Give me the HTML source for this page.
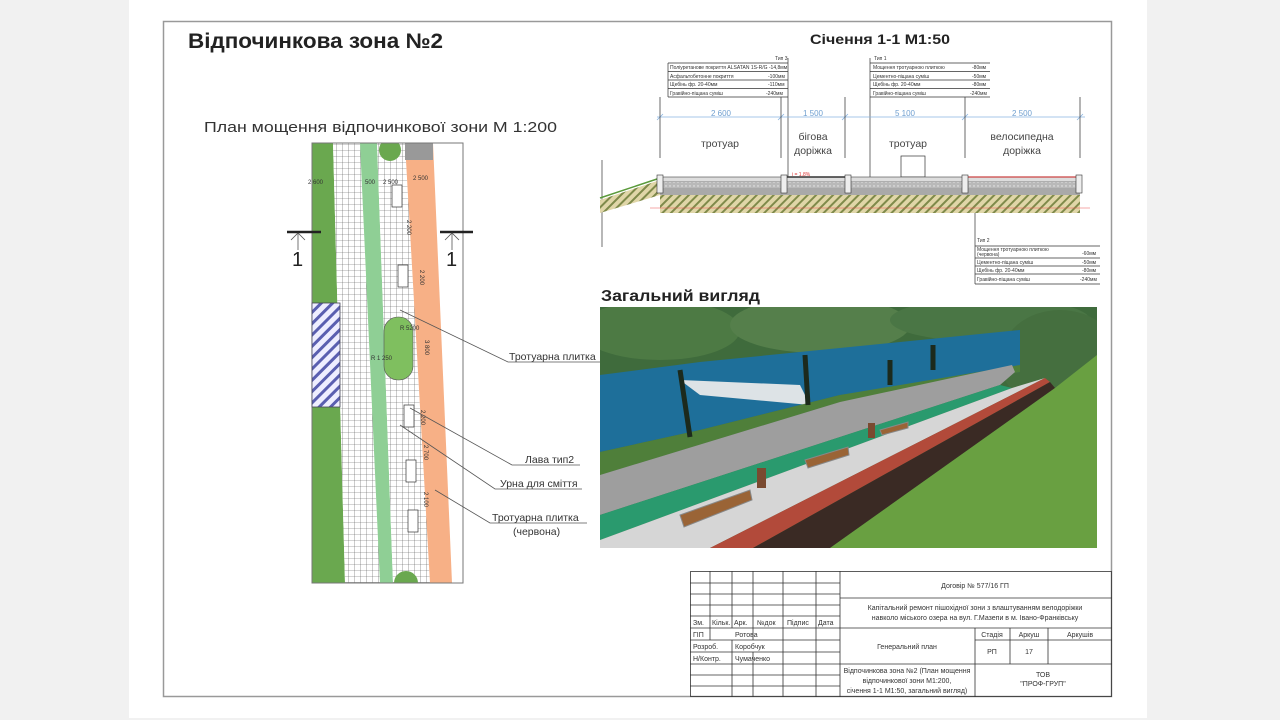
<!DOCTYPE html>
<html><head><meta charset="utf-8"><style>
html,body{margin:0;padding:0;background:#f1f1f1;width:1280px;height:720px;overflow:hidden}
svg{display:block}
text{font-family:"Liberation Sans",sans-serif}
</style></head><body>
<svg width="1280" height="720" viewBox="0 0 1280 720" xmlns="http://www.w3.org/2000/svg">
<defs>
<pattern id="grid" width="6" height="6" patternUnits="userSpaceOnUse">
<rect width="6" height="6" fill="#fff"/><path d="M0 0H6M0 0V6" stroke="#555" stroke-width="0.6"/></pattern>
<pattern id="hatchB" width="8" height="8" patternUnits="userSpaceOnUse" patternTransform="rotate(45)">
<rect width="8" height="8" fill="#eef"/><rect width="3" height="8" fill="#5a5fb0"/></pattern>
<pattern id="soil" width="6" height="6" patternUnits="userSpaceOnUse" patternTransform="rotate(45)">
<rect width="6" height="6" fill="#e0d6a8"/><rect width="2" height="6" fill="#7f8a4a"/></pattern>
<pattern id="grav" width="4" height="4" patternUnits="userSpaceOnUse">
<rect width="4" height="4" fill="#b9b9b9"/><circle cx="2" cy="2" r="0.7" fill="#eee"/></pattern>
<clipPath id="cp"><rect x="600" y="307" width="497" height="241"/></clipPath>
<clipPath id="cplan"><rect x="312" y="143" width="151" height="440"/></clipPath>
</defs>
<rect x="129" y="0" width="1018" height="718" fill="#fff"/>
<rect x="163.5" y="21.5" width="948" height="675" fill="none" stroke="#999" stroke-width="1.5"/>

<text x="188" y="48" font-size="21" font-weight="bold" fill="#222" textLength="255" lengthAdjust="spacingAndGlyphs">Відпочинкова зона №2</text>
<text x="204" y="132" font-size="15" fill="#333" textLength="353" lengthAdjust="spacingAndGlyphs">План мощення відпочинкової зони  М 1:200</text>
<text x="810" y="44" font-size="14" font-weight="bold" fill="#222" textLength="140" lengthAdjust="spacingAndGlyphs">Січення 1-1 М1:50</text>
<text x="601" y="301" font-size="16" font-weight="bold" fill="#222" textLength="159" lengthAdjust="spacingAndGlyphs">Загальний вигляд</text>

<!-- PLAN -->
<g clip-path="url(#cplan)">
<rect x="312" y="143" width="151" height="440" fill="#fff"/>
<polygon points="312,143 333,143 345,583 312,583" fill="#6aa84f"/>
<polygon points="333,143 360,143 380,583 345,583" fill="url(#grid)"/>
<polygon points="360,143 377,143 393,583 380,583" fill="#8fcf95"/>
<polygon points="377,143 405,143 430,583 393,583" fill="url(#grid)"/>
<polygon points="405,143 433,143 452,583 430,583" fill="#f7b086"/>
<rect x="405" y="143" width="28" height="17" fill="#999"/>
<circle cx="390" cy="150" r="11" fill="#6aa84f"/>
<circle cx="406" cy="583" r="12" fill="#6aa84f"/>
</g>
<rect x="312" y="143" width="151" height="440" fill="none" stroke="#777"/>
<rect x="384" y="317" width="29" height="63" rx="14" fill="#7fbf5f" stroke="#555" stroke-width="0.6"/>
<rect x="312" y="303" width="28" height="104" fill="url(#hatchB)" stroke="#445" stroke-width="0.8"/>
<g fill="#fff" stroke="#333" stroke-width="0.7">
<rect x="392" y="185" width="10" height="22"/><rect x="398" y="265" width="10" height="22"/>
<rect x="404" y="405" width="10" height="22"/><rect x="406" y="460" width="10" height="22"/>
<rect x="408" y="510" width="10" height="22"/>
</g>
<g font-size="6" fill="#333">
<text x="308" y="184">2 600</text><text x="365" y="184">500</text><text x="383" y="184">2 500</text><text x="413" y="180">2 500</text>
<text x="407" y="220" transform="rotate(90 407 220)">2 200</text><text x="420" y="270" transform="rotate(90 420 270)">2 200</text>
<text x="400" y="330">R 5200</text><text x="371" y="360">R 1 250</text>
<text x="425" y="340" transform="rotate(90 425 340)">3 800</text>
<text x="421" y="410" transform="rotate(90 421 410)">2 200</text><text x="424" y="445" transform="rotate(90 424 445)">2 700</text>
<text x="424" y="492" transform="rotate(90 424 492)">2 100</text>
</g>
<g stroke="#222" stroke-width="2.5"><line x1="287" y1="232" x2="321" y2="232"/><line x1="440" y1="232" x2="473" y2="232"/></g>
<g stroke="#555" stroke-width="0.8" fill="none"><path d="M298 233V250M291 240L298 233L305 240"/><path d="M452 233V250M445 240L452 233L459 240"/></g>
<text x="292" y="266" font-size="20" fill="#222">1</text><text x="446" y="266" font-size="20" fill="#222">1</text>

<g stroke="#555" stroke-width="0.8" fill="none">
<path d="M400 310L508 362H600"/><path d="M410 408L512 465H580"/>
<path d="M400 425L495 489H582"/><path d="M435 490L490 523H587"/>
</g>
<g font-size="10.5" fill="#333">
<text x="509" y="360">Тротуарна плитка</text>
<text x="525" y="463">Лава тип2</text>
<text x="500" y="487">Урна для сміття</text>
<text x="492" y="521">Тротуарна плитка</text>
<text x="513" y="535">(червона)</text>
</g>

<!-- SECTION -->
<g stroke="#333" stroke-width="0.7" fill="none">
<path d="M668 63H788M668 71.5H788M668 80H788M668 88.5H788M668 97H788M668 63V97M788 58V186"/>
<path d="M870 63H990M870 71.5H990M870 80H990M870 88.5H990M870 97H990M870 58V180"/>
<path d="M975 246H1100M975 258H1100M975 266H1100M975 274H1100M975 284H1100M975 246V284M975 195V284"/>
<path d="M602 160V247"/>
</g>
<g font-size="5" fill="#333">
<text x="775" y="60">Тип 3</text><text x="874" y="60">Тип 1</text><text x="977" y="242">Тип 2</text>
<text x="670" y="69">Поліуретанове покриття ALSATAN 1S-R/G -14,8мм</text>
<text x="670" y="78">Асфальтобетонне покриття</text><text x="768" y="78">-100мм</text>
<text x="670" y="86">Щебінь фр. 20-40мм</text><text x="768" y="86">-110мм</text>
<text x="670" y="95">Гравійно-піщана суміш</text><text x="766" y="95">-240мм</text>
<text x="873" y="69">Мощення тротуарною плиткою</text><text x="972" y="69">-80мм</text>
<text x="873" y="78">Цементно-піщана суміш</text><text x="972" y="78">-50мм</text>
<text x="873" y="86">Щебінь фр. 20-40мм</text><text x="972" y="86">-80мм</text>
<text x="873" y="95">Гравійно-піщана суміш</text><text x="970" y="95">-240мм</text>
<text x="977" y="251">Мощення тротуарною плиткою</text><text x="977" y="256">(червона)</text><text x="1082" y="255">-60мм</text>
<text x="977" y="264">Цементно-піщана суміш</text><text x="1082" y="264">-50мм</text>
<text x="977" y="272">Щебінь фр. 20-40мм</text><text x="1082" y="272">-80мм</text>
<text x="977" y="281">Гравійно-піщана суміш</text><text x="1080" y="281">-240мм</text>
</g>
<g stroke="#8ab4e0" stroke-width="0.8"><path d="M657 117H1085"/>
<path d="M657 120L663 114M778 120L784 114M842 120L848 114M962 120L968 114M1077 120L1083 114"/></g>
<g stroke="#444" stroke-width="0.8"><path d="M660 97V158M781 97V158M845 97V158M965 97V158M1080 97V158"/></g>
<g font-size="8" fill="#6f9fd0" text-anchor="middle"><text x="721" y="116">2 600</text><text x="813" y="116">1 500</text><text x="905" y="116">5 100</text><text x="1022" y="116">2 500</text></g>
<g font-size="10.5" fill="#444" text-anchor="middle"><text x="720" y="147">тротуар</text><text x="813" y="140">бігова</text><text x="813" y="154">доріжка</text><text x="908" y="147">тротуар</text><text x="1022" y="140">велосипедна</text><text x="1022" y="154">доріжка</text></g>
<rect x="901" y="156" width="24" height="21" fill="#fff" stroke="#333" stroke-width="0.7"/>
<polygon points="600,200 660,180 660,195 600,213" fill="url(#soil)"/>
<path d="M600 198L660 178" stroke="#5a9a3a" stroke-width="1.5"/>
<rect x="660" y="195" width="420" height="18" fill="url(#soil)"/>
<rect x="660" y="177" width="420" height="5" fill="#ddd" stroke="#444" stroke-width="0.6"/>
<rect x="660" y="182" width="420" height="6" fill="url(#grav)"/>
<rect x="660" y="188" width="420" height="7" fill="#a9a9a9"/>
<path d="M787 177H845" stroke="#333" stroke-width="1.5"/>
<path d="M965 177H1080" stroke="#c44" stroke-width="1.2"/>
<g fill="#eee" stroke="#333" stroke-width="0.6"><rect x="657" y="175" width="6" height="18"/><rect x="781" y="175" width="6" height="18"/><rect x="845" y="175" width="6" height="18"/><rect x="962" y="175" width="6" height="18"/><rect x="1076" y="175" width="6" height="18"/></g>
<path d="M650 208H1090" stroke="#e55" stroke-width="0.6"/>
<text x="792" y="176" font-size="5" fill="#d33">і = 1,8%</text>

<!-- PHOTO -->
<g clip-path="url(#cp)">
<rect x="600" y="307" width="497" height="241" fill="#3f6b3c"/>
<ellipse cx="660" cy="330" rx="80" ry="30" fill="#4d7a44"/>
<ellipse cx="820" cy="325" rx="90" ry="28" fill="#557f4b"/>
<ellipse cx="990" cy="320" rx="100" ry="22" fill="#4a7645"/>
<ellipse cx="1060" cy="360" rx="60" ry="50" fill="#456f3f"/>
<polygon points="600,375 700,362 1020,330 1020,372 840,395 700,430 600,452" fill="#1e6f9a"/>
<polygon points="680,380 800,385 810,405 700,395" fill="#dde3e6"/>
<polygon points="600,452 700,430 840,395 1020,365 1020,372 840,402 600,475" fill="#4f7f3a"/>
<polygon points="600,475 840,402 1012,365 1015,372 1000,385 600,515" fill="#9e9e9e"/>
<polygon points="600,515 1000,385 1012,388 600,540" fill="#2a9a6e"/>
<polygon points="600,540 1012,388 1045,378 710,548 600,548" fill="#d6d6d6"/>
<polygon points="710,548 1045,378 1050,382 753,548" fill="#b24a3a"/>
<polygon points="753,548 1050,382 1055,388 830,548" fill="#3a2a24"/>
<polygon points="830,548 1055,388 1097,355 1097,548" fill="#69a041"/>
<g stroke="#1c2a1c" stroke-width="5"><path d="M680 370L690 437"/><path d="M805 355L808 405"/><path d="M890 360L890 385"/><path d="M933 345L933 370"/></g>
<g fill="#9a6436" stroke="#888" stroke-width="1"><path d="M680 515L750 490L752 500L684 527Z"/><path d="M805 460L848 447L849 455L808 468Z"/><path d="M880 430L908 422L908 428L882 435Z"/></g>
<g fill="#7a4a30"><rect x="757" y="468" width="9" height="20"/><rect x="868" y="423" width="7" height="15"/></g>
</g>

<!-- TITLE BLOCK -->
<g stroke="#333" stroke-width="0.8" fill="none">
<rect x="690.5" y="571.5" width="421" height="125"/>
<path d="M690 583H840M690 594H840M690 605H840M690 616H840M690 628H1112M690 640H840M690 652H840M690 664H1112M690 675H840M690 686H840"/>
<path d="M710 571V640M732 571V628M753 571V640M783 571V697M816 571V697M840 571V697"/>
<path d="M732 640V697M753 652V697M840 598H1112M975 628V697M1010 628V664M1048 628V664M975 640H1112"/>
</g>
<g font-size="7" fill="#333">
<text x="693" y="625">Зм.</text><text x="712" y="625">Кільк.</text><text x="734" y="625">Арк.</text><text x="757" y="625">№док</text><text x="787" y="625">Підпис</text><text x="818" y="625">Дата</text>
<text x="693" y="637">ГІП</text><text x="735" y="637">Ротова</text>
<text x="693" y="649">Розроб.</text><text x="735" y="649">Коробчук</text>
<text x="693" y="661">Н/Контр.</text><text x="735" y="661">Чумаченко</text>
</g>
<g font-size="7" fill="#333" text-anchor="middle">
<text x="975" y="588">Договір № 577/16 ГП</text>
<text x="975" y="610">Капітальний ремонт пішохідної зони з влаштуванням велодоріжки</text>
<text x="975" y="620">навколо міського озера на вул. Г.Мазепи в м. Івано-Франківську</text>
<text x="907" y="649">Генеральний план</text>
<text x="992" y="637">Стадія</text><text x="1029" y="637">Аркуш</text><text x="1080" y="637">Аркушів</text>
<text x="992" y="654">РП</text><text x="1029" y="654">17</text>
<text x="907" y="673">Відпочинкова зона №2 (План мощення</text>
<text x="907" y="683">відпочинкової зони М1:200,</text>
<text x="907" y="693">січення 1-1 М1:50, загальний вигляд)</text>
<text x="1043" y="677">ТОВ</text><text x="1043" y="686">"ПРОФ-ГРУП"</text>
</g>
</svg>
</body></html>
